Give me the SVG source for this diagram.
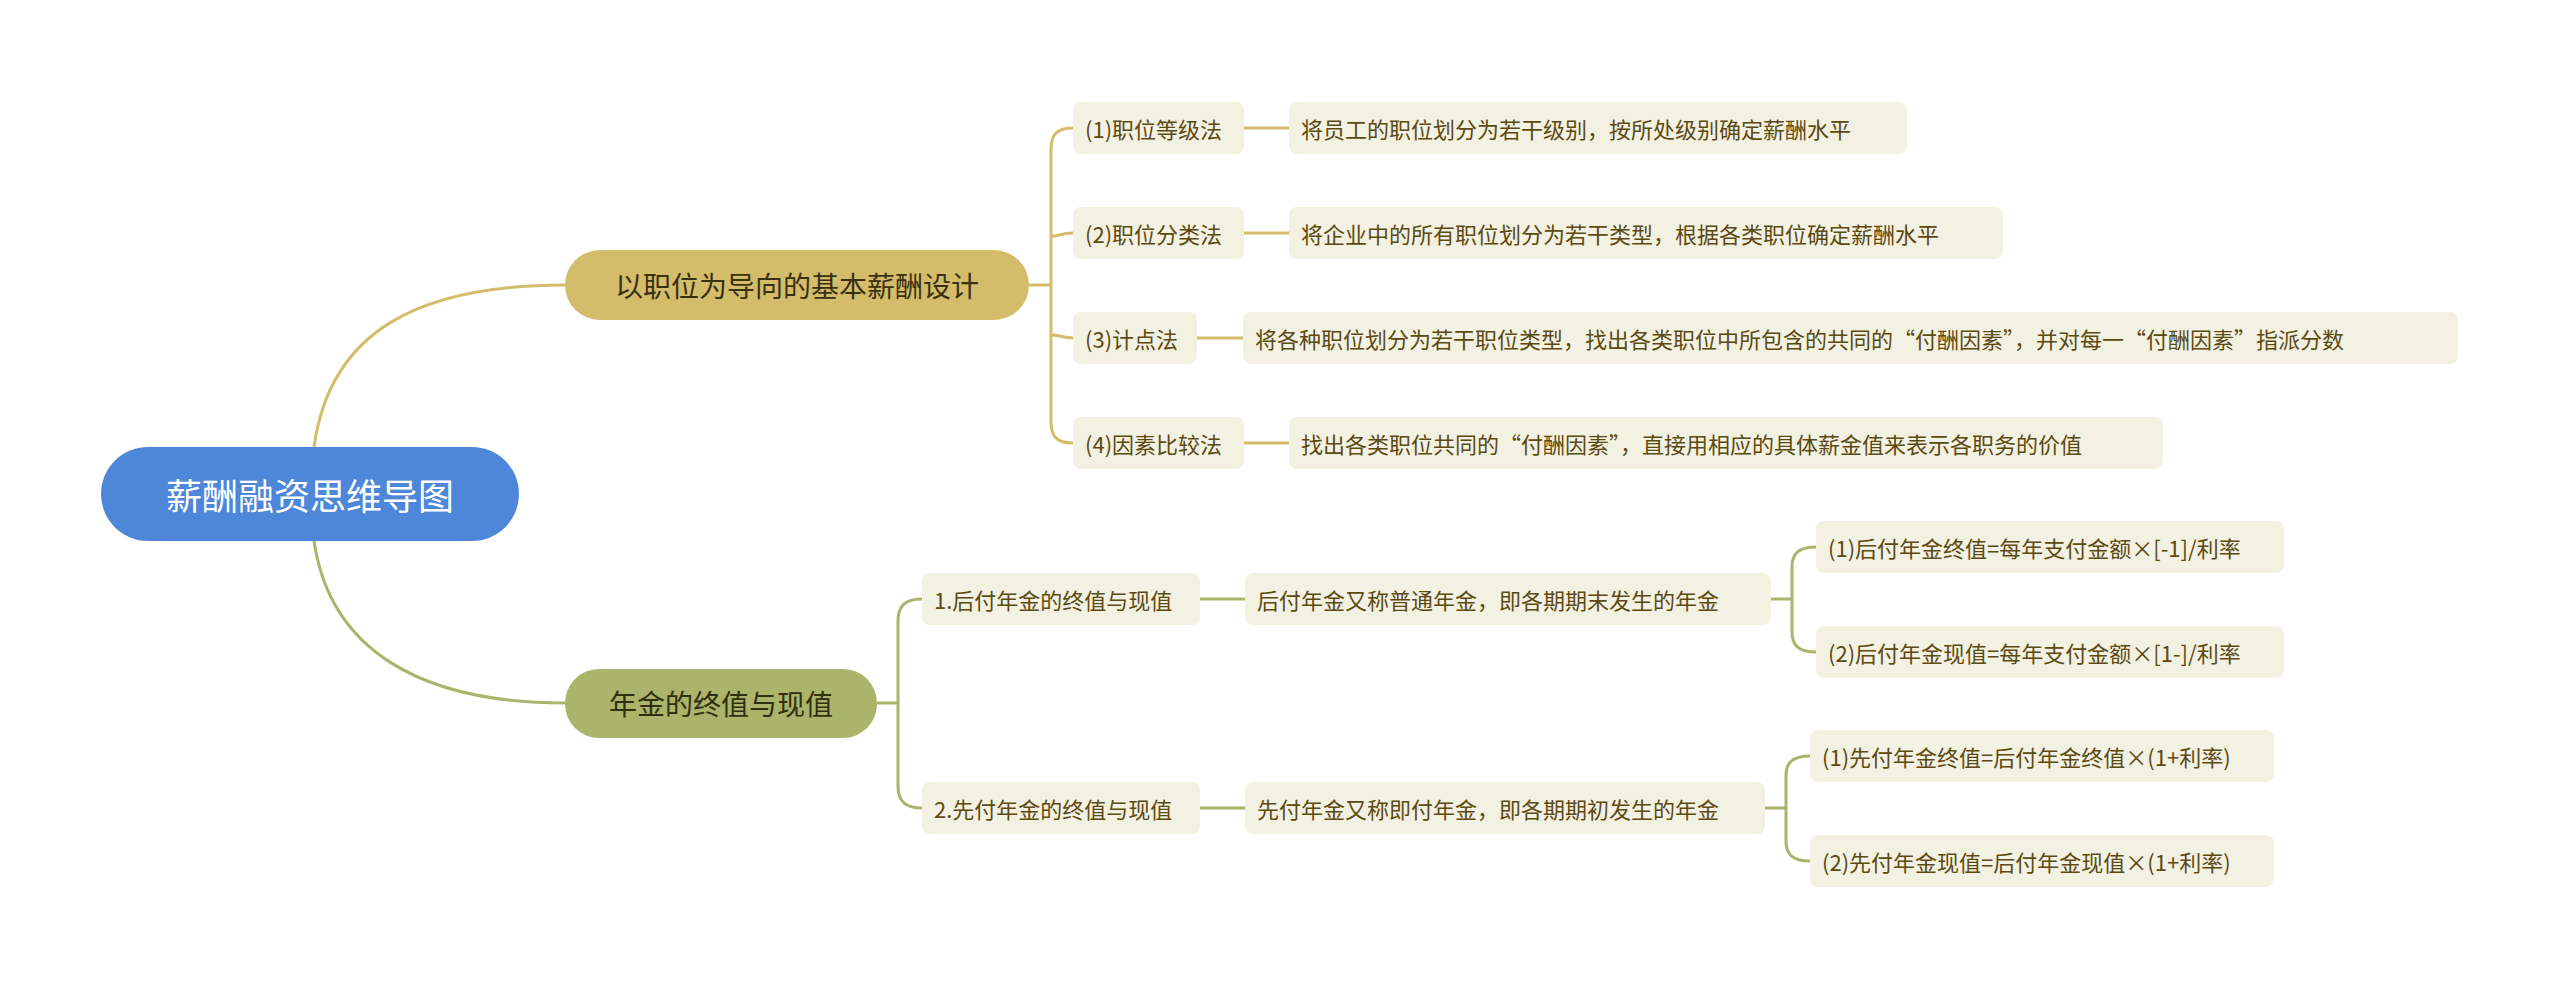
<svg xmlns="http://www.w3.org/2000/svg" width="2560" height="989" viewBox="0 0 2560 989">
<style>
text{font-family:"Noto Sans CJK SC","Noto Sans",sans-serif;dominant-baseline:central}
.leaf{fill:#f3f1e2}
.lt{font-size:22px;fill:#5b4a12}
.c1{fill:none;stroke:#d4bd6a;stroke-width:3}
.c2{fill:none;stroke:#aab46b;stroke-width:3}
</style>
<rect width="2560" height="989" fill="#fff"/>
<g id="connectors">
<path class="c1" d="M314,447 C330,330 420,285 565,285"/>
<path class="c2" d="M314,541 C330,650 420,703 565,703"/>
<path class="c1" d="M1029,285 H1051 M1073,128 C1056,128 1051,135 1051,150 V421 C1051,436 1056,443 1073,443 M1051,233 C1051,240 1058,233 1073,233 M1051,338 C1051,331 1058,338 1073,338"/>
<path class="c1" d="M1244,128 H1289 M1244,233 H1289 M1197,338 H1243 M1244,443 H1289"/>
<path class="c2" d="M877,703 H898 M922,599 C905,599 898,606 898,621 V786 C898,801 905,808 922,808"/>
<path class="c2" d="M1200,599 H1245 M1200,808 H1245"/>
<path class="c2" d="M1771,599 H1792 M1816,547 C1798,547 1792,554 1792,567 V632 C1792,645 1798,652 1816,652"/>
<path class="c2" d="M1765,808 H1786 M1810,756 C1792,756 1786,763 1786,776 V841 C1786,854 1792,861 1810,861"/>
</g>
<g id="root"><rect x="101" y="447" width="418" height="94" rx="47" fill="#4e86d9"/><text x="310" y="494" font-size="36" fill="#fff" text-anchor="middle">薪酬融资思维导图</text></g>
<g id="b1"><rect x="565" y="250" width="464" height="70" rx="35" fill="#d4bd6a"/><text x="797" y="285" font-size="28" fill="#3a3010" text-anchor="middle">以职位为导向的基本薪酬设计</text></g>
<g id="b2"><rect x="565" y="669" width="312" height="69" rx="34" fill="#aab46b"/><text x="721" y="703" font-size="28" fill="#2e3010" text-anchor="middle">年金的终值与现值</text></g>
<g id="n1"><rect class="leaf" x="1073" y="102" width="171" height="52" rx="8"/><text class="lt" x="1085" y="128">(1)职位等级法</text></g>
<g id="n2"><rect class="leaf" x="1073" y="207" width="171" height="52" rx="8"/><text class="lt" x="1085" y="233">(2)职位分类法</text></g>
<g id="n3"><rect class="leaf" x="1073" y="312" width="124" height="52" rx="8"/><text class="lt" x="1085" y="338">(3)计点法</text></g>
<g id="n4"><rect class="leaf" x="1073" y="417" width="171" height="52" rx="8"/><text class="lt" x="1085" y="443">(4)因素比较法</text></g>
<g id="d1"><rect class="leaf" x="1289" y="102" width="618" height="52" rx="8"/><text class="lt" x="1301" y="128">将员工的职位划分为若干级别，按所处级别确定薪酬水平</text></g>
<g id="d2"><rect class="leaf" x="1289" y="207" width="714" height="52" rx="8"/><text class="lt" x="1301" y="233">将企业中的所有职位划分为若干类型，根据各类职位确定薪酬水平</text></g>
<g id="d3"><rect class="leaf" x="1243" y="312" width="1215" height="52" rx="8"/><text class="lt" x="1255" y="338">将各种职位划分为若干职位类型，找出各类职位中所包含的共同的“付酬因素”，并对每一“付酬因素”指派分数</text></g>
<g id="d4"><rect class="leaf" x="1289" y="417" width="874" height="52" rx="8"/><text class="lt" x="1301" y="443">找出各类职位共同的“付酬因素”，直接用相应的具体薪金值来表示各职务的价值</text></g>
<g id="m1"><rect class="leaf" x="922" y="573" width="278" height="52" rx="8"/><text class="lt" x="934" y="599">1.后付年金的终值与现值</text></g>
<g id="m2"><rect class="leaf" x="922" y="782" width="278" height="52" rx="8"/><text class="lt" x="934" y="808">2.先付年金的终值与现值</text></g>
<g id="e1"><rect class="leaf" x="1245" y="573" width="526" height="52" rx="8"/><text class="lt" x="1257" y="599">后付年金又称普通年金，即各期期末发生的年金</text></g>
<g id="e2"><rect class="leaf" x="1245" y="782" width="520" height="52" rx="8"/><text class="lt" x="1257" y="808">先付年金又称即付年金，即各期期初发生的年金</text></g>
<g id="f1"><rect class="leaf" x="1816" y="521" width="468" height="52" rx="8"/><text class="lt" x="1828" y="547">(1)后付年金终值=每年支付金额×[-1]/利率</text></g>
<g id="f2"><rect class="leaf" x="1816" y="626" width="468" height="52" rx="8"/><text class="lt" x="1828" y="652">(2)后付年金现值=每年支付金额×[1-]/利率</text></g>
<g id="f3"><rect class="leaf" x="1810" y="730" width="464" height="52" rx="8"/><text class="lt" x="1822" y="756">(1)先付年金终值=后付年金终值×(1+利率)</text></g>
<g id="f4"><rect class="leaf" x="1810" y="835" width="464" height="52" rx="8"/><text class="lt" x="1822" y="861">(2)先付年金现值=后付年金现值×(1+利率)</text></g>
</svg>
